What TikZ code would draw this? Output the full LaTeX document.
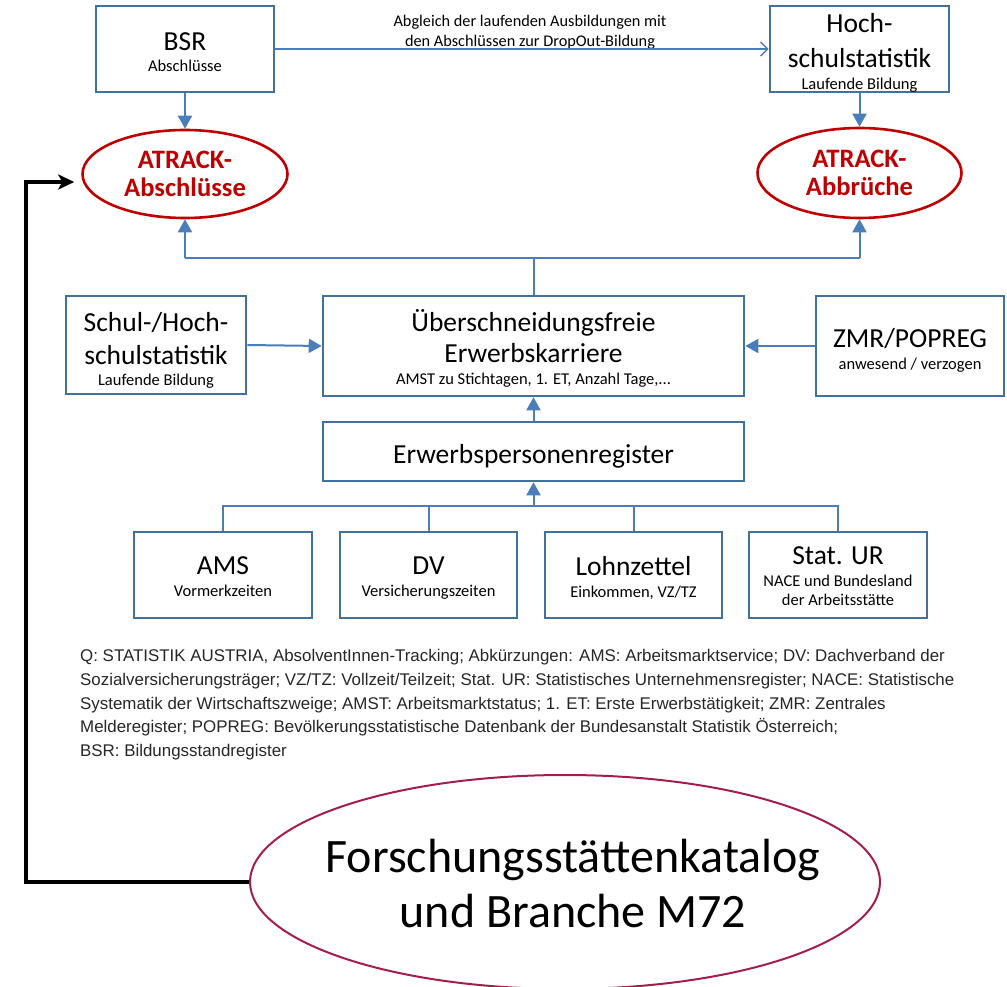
\documentclass[tikz,border=0pt]{standalone}
\usepackage{fontspec}
\setmainfont{Carlito}
\newfontfamily\arialf{Liberation Sans}
\usetikzlibrary{arrows.meta,shapes.geometric,calc}
\definecolor{boxc}{RGB}{65,113,156}
\definecolor{arrc}{RGB}{74,126,187}
\definecolor{redc}{RGB}{192,0,0}
\definecolor{magc}{RGB}{165,30,75}
\newcommand\fsS[1]{{\fontsize{16.5}{20}\selectfont #1}}
\newcommand\tp[1]{\rule{0pt}{#1pt}}
\begin{document}
\begin{tikzpicture}[x=1pt,y=-1pt,
  box/.style={draw=boxc,line width=2.6pt,rectangle,inner sep=0pt,align=center,fill=white,font=\fontsize{27.5}{33}\selectfont},
  boxtext/.style={inner sep=0pt,align=center,font=\fontsize{27.5}{33}\selectfont},
  ell/.style={draw=redc,line width=2.6pt,ellipse,inner sep=0pt,text=redc,align=center,font=\bfseries\fontsize{26.6}{28}\selectfont},
  conn/.style={draw=arrc,line width=2pt},
  arr/.style={conn,-{Triangle[width=14pt,length=13pt]}},
  blk/.style={draw=black,line width=3.5pt,-{Stealth[length=16pt,width=15pt,inset=4pt]}},
]
\useasboundingbox (0,0) rectangle (1007,987);
% top row
\node[box,minimum width=178pt,minimum height=86pt] (BSR) at (185,49) {\tp{24.6}BSR\\[-12.4pt]\fsS{Abschlüsse}};
\node[box,minimum width=179pt,minimum height=86pt] (HS) at (859.5,49) {};
\node[boxtext] (HSt) at (HS.center) {\tp{27}Hoch-\\[2pt]schulstatistik\\[-11.4pt]\fsS{Laufende Bildung}};
\node[font=\fontsize{16.3}{20}\selectfont,align=center] (lab) at (530,32) {Abgleich der laufenden Ausbildungen mit\\den Abschlüssen zur DropOut-Bildung};
\draw[conn,line width=1.5pt,-{Straight Barb[length=7pt,width=14pt]}] (BSR.east) -- (HS.west);
% ellipses
\node[ell,minimum width=205pt,minimum height=88pt] (EA) at (185,174) {ATRACK-\\Abschlüsse};
\node[ell,minimum width=204pt,minimum height=90pt] (EB) at (859.5,173) {ATRACK-\\Abbrüche};
\draw[arr] (BSR.south) -- (EA.north);
\draw[arr] (HS.south) -- (EB.north);
% middle row
\node[box,minimum width=180pt,minimum height=98pt] (SH) at (156,345) {\tp{29.6}Schul-/Hoch-\\[0pt]schulstatistik\\[-11.4pt]\fsS{Laufende Bildung}};
\node[box,minimum width=421pt,minimum height=100pt] (UB) at (533.5,346) {\tp{26.6}Überschneidungsfreie\\[-2pt]Erwerbskarriere\\[-10.4pt]\fsS{AMST zu Stichtagen, 1. ET, Anzahl Tage,...}};
\node[box,minimum width=188pt,minimum height=100pt] (ZMR) at (910,346) {\tp{27.6}ZMR/POPREG\\[-10.4pt]\fsS{anwesend / verzogen}};
\draw[arr] (SH.east) -- (UB.west);
\draw[arr] (ZMR.west) -- (UB.east);
\coordinate (tbus) at (530,258);
\draw[conn] (UB.north) -- (UB.north |- tbus);
\draw[conn] (EA.south |- tbus) -- (EB.south |- tbus);
\draw[arr] (EA.south |- tbus) -- (EA.south);
\draw[arr] (EB.south |- tbus) -- (EB.south);
% register
\node[box,minimum width=421pt,minimum height=59pt] (EPR) at (533.5,451.5) {\tp{28.6}Erwerbspersonenregister};
\draw[arr] (EPR.north) -- (UB.south);
% bottom row
\node[box,minimum width=178pt,minimum height=86pt] (AMS) at (223,575) {\tp{21.6}AMS\\[-11.4pt]\fsS{Vormerkzeiten}};
\node[box,minimum width=177pt,minimum height=86pt] (DV) at (428.5,575) {\tp{23.6}DV\\[-11.4pt]\fsS{Versicherungszeiten}};
\node[box,minimum width=177pt,minimum height=86pt] (LZ) at (633.5,575) {\tp{24.6}Lohnzettel\\[-11.4pt]\fsS{Einkommen, VZ/TZ}};
\node[box,minimum width=178pt,minimum height=86pt] (SUR) at (838,575) {\tp{20.6}Stat. UR\\[-11.4pt]\fsS{NACE und Bundesland}\\[-14pt]\fsS{der Arbeitsstätte}};
\coordinate (bbus) at (530,506);
\draw[conn] (AMS.north) -- (AMS.north |- bbus) -- (SUR.north |- bbus) -- (SUR.north);
\draw[conn] (DV.north) -- (DV.north |- bbus);
\draw[conn] (LZ.north) -- (LZ.north |- bbus);
\draw[arr] (EPR.south |- bbus) -- (EPR.south);
% footnote
\node[anchor=north west,inner sep=0pt,align=left,font=\arialf\fontsize{16.9}{23.8}\selectfont,text=black!85] (fn) at (80,649) {Q: STATISTIK AUSTRIA, AbsolventInnen-Tracking; Abkürzungen: AMS: Arbeitsmarktservice; DV: Dachverband der\\
Sozialversicherungsträger; VZ/TZ: Vollzeit/Teilzeit; Stat. UR: Statistisches Unternehmensregister; NACE: Statistische\\
Systematik der Wirtschaftszweige; AMST: Arbeitsmarktstatus; 1. ET: Erste Erwerbstätigkeit; ZMR: Zentrales\\
Melderegister; POPREG: Bevölkerungsstatistische Datenbank der Bundesanstalt Statistik Österreich;\\
BSR: Bildungsstandregister};
% bottom ellipse
\node[draw=magc,line width=2pt,ellipse,minimum width=630pt,minimum height=214pt,inner sep=0pt] (F) at (565,882) {};
\node[align=center,font=\fontsize{48}{55}\selectfont] (Ft) at (573,884) {Forschungsstättenkatalog\\und Branche M72};
\coordinate (bk) at (26,182);
\draw[blk,shorten >=7pt] (F.west) -| (bk) -- (EA.west |- bk);
\end{tikzpicture}
\end{document}
